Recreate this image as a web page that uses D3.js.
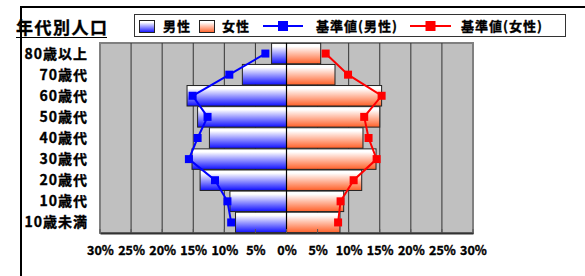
<!DOCTYPE html>
<html>
<head>
<meta charset="utf-8">
<script src="https://cdn.jsdelivr.net/npm/d3@7"></script>
<style>
  body { margin: 0; background: #fff; }
  text { font-family: "Noto Sans CJK JP", "Noto Sans", sans-serif; font-weight: bold;
         stroke: #000; stroke-width: 0.35px; }
</style>
</head>
<body>
<div id="chart"></div>
<script>
// data (percent)
var ageGroups = ["80歳以上", "70歳代", "60歳代", "50歳代", "40歳代", "30歳代", "20歳代", "10歳代", "10歳未満"];
var maleValues = [2.4, 7.1, 16.0, 14.3, 12.4, 15.2, 13.9, 9.1, 8.2];
var femaleValues = [5.5, 7.8, 15.3, 15.0, 12.3, 14.4, 12.1, 9.2, 8.6];
var maleBase = [3.4, 9.2, 15.1, 12.7, 14.3, 15.7, 11.5, 9.5, 8.9];
var femaleBase = [6.3, 9.9, 15.3, 12.5, 13.2, 14.5, 10.8, 8.7, 8.3];
var tickValues = [-30, -25, -20, -15, -10, -5, 0, 5, 10, 15, 20, 25, 30];
var legendLabels = ["男性", "女性", "基準値(男性)", "基準値(女性)"];

var width = 585, height = 276;
var svg = d3.select("#chart").append("svg")
  .attr("width", width).attr("height", height);

var defs = svg.append("defs");
function grad(id, color) {
  var g = defs.append("linearGradient").attr("id", id)
    .attr("x1", 0).attr("y1", 0).attr("x2", 0).attr("y2", 1);
  g.append("stop").attr("offset", 0).attr("stop-color", "#ffffff");
  g.append("stop").attr("offset", 0.15).attr("stop-color", "#ffffff");
  g.append("stop").attr("offset", 1).attr("stop-color", color);
}
grad("gMale", "#1010ff");
grad("gFemale", "#ff6028");

// outer frame (cut off by the window)
svg.append("path")
  .attr("d", "M21,280 L21,7 L590,7")
  .attr("fill", "none").attr("stroke", "#000").attr("stroke-width", 2);

var x = d3.scaleLinear().domain([-30, 30]).range([100, 473]);
var y = d3.scaleBand().domain(ageGroups).range([43, 233]).paddingInner(0.03).paddingOuter(0.015);

// plot area
svg.append("rect").attr("x", x(-30)).attr("y", 43)
  .attr("width", x(30) - x(-30)).attr("height", 190)
  .attr("fill", "#c0c0c0").attr("stroke", "#808080").attr("stroke-width", 2);

// gridlines
svg.append("g").selectAll("line")
  .data(tickValues.filter(function(d) { return d != -30 && d != 30; }))
  .enter().append("line")
  .attr("x1", function(d) { return x(d); }).attr("x2", function(d) { return x(d); })
  .attr("y1", 43).attr("y2", 233)
  .attr("stroke", "#333").attr("stroke-width", 1);

// bars
svg.append("g").selectAll("rect")
  .data(maleValues).enter().append("rect")
  .attr("x", function(d) { return x(-d); })
  .attr("y", function(d, i) { return y(ageGroups[i]); })
  .attr("width", function(d) { return x(0) - x(-d); })
  .attr("height", y.bandwidth())
  .attr("fill", "url(#gMale)").attr("stroke", "#222").attr("stroke-width", 1);
svg.append("g").selectAll("rect")
  .data(femaleValues).enter().append("rect")
  .attr("x", x(0))
  .attr("y", function(d, i) { return y(ageGroups[i]); })
  .attr("width", function(d) { return x(d) - x(0); })
  .attr("height", y.bandwidth())
  .attr("fill", "url(#gFemale)").attr("stroke", "#222").attr("stroke-width", 1);

svg.append("line").attr("x1", x(0)).attr("x2", x(0)).attr("y1", 43).attr("y2", 233)
  .attr("stroke", "#000").attr("stroke-width", 1.2);

// bottom axis
var axis = svg.append("g").attr("transform", "translate(0,233)")
  .call(d3.axisBottom(x).tickValues(tickValues).tickSize(0).tickPadding(13)
    .tickFormat(function(d) { return Math.abs(d) + "%"; }));
axis.select(".domain").attr("stroke", "#333").attr("stroke-width", 2);
axis.selectAll("text").attr("font-size", 12.5).attr("fill", "#000")
  .style("font-family", "'Noto Sans CJK JP', sans-serif").style("font-weight", "bold");
svg.append("g").selectAll("line").data(tickValues).enter().append("line")
  .attr("x1", function(d) { return x(d); }).attr("x2", function(d) { return x(d); })
  .attr("y1", 229).attr("y2", 233).attr("stroke", "#555");

// category labels
svg.append("g").selectAll("text").data(ageGroups).enter().append("text")
  .attr("x", 88)
  .attr("y", function(d) { return y(d) + y.bandwidth() / 2; })
  .attr("dy", "0.36em")
  .attr("text-anchor", "end")
  .attr("font-size", 14)
  .attr("letter-spacing", 1)
  .text(function(d) { return d; });

// base lines
var line = d3.line()
  .x(function(d) { return x(d[0]); })
  .y(function(d) { return y(d[1]) + y.bandwidth() / 2; });
function baseSeries(vals, sign, color) {
  var pts = vals.map(function(v, i) { return [sign * v, ageGroups[i]]; });
  svg.append("path").datum(pts).attr("d", line)
    .attr("fill", "none").attr("stroke", color).attr("stroke-width", 2);
  svg.append("g").selectAll("rect").data(pts).enter().append("rect")
    .attr("x", function(d) { return x(d[0]) - 4; })
    .attr("y", function(d) { return y(d[1]) + y.bandwidth() / 2 - 4; })
    .attr("width", 8).attr("height", 8).attr("fill", color);
}
baseSeries(maleBase, -1, "#0000ff");
baseSeries(femaleBase, 1, "#ff0000");

// title
svg.append("text").attr("x", 16).attr("y", 34).attr("font-size", 17)
  .attr("letter-spacing", 1.5).text("年代別人口");
svg.append("line").attr("x1", 16).attr("x2", 107).attr("y1", 37.5).attr("y2", 37.5)
  .attr("stroke", "#000").attr("stroke-width", 1);

// legend
var lg = svg.append("g");
lg.append("rect").attr("x", 134.5).attr("y", 14.5).attr("width", 431).attr("height", 22)
  .attr("fill", "#fff").attr("stroke", "#333").attr("stroke-width", 1);
lg.append("rect").attr("x", 139.5).attr("y", 20.5).attr("width", 15).attr("height", 12)
  .attr("fill", "url(#gMale)").attr("stroke", "#222");
lg.append("rect").attr("x", 199.5).attr("y", 20.5).attr("width", 15).attr("height", 12)
  .attr("fill", "url(#gFemale)").attr("stroke", "#222");
var lx = [163, 222, 316, 461];
lg.selectAll("text").data(legendLabels).enter().append("text")
  .attr("x", function(d, i) { return lx[i]; }).attr("y", 26).attr("dy", "0.36em")
  .attr("font-size", 13).attr("letter-spacing", 1).text(function(d) { return d; });
[[263, 303, "#0000ff"], [410, 451, "#ff0000"]].forEach(function(s) {
  lg.append("line").attr("x1", s[0]).attr("x2", s[1]).attr("y1", 26).attr("y2", 26)
    .attr("stroke", s[2]).attr("stroke-width", 2);
  lg.append("rect").attr("x", (s[0] + s[1]) / 2 - 5).attr("y", 21).attr("width", 10).attr("height", 10)
    .attr("fill", s[2]);
});
</script>
</body>
</html>
